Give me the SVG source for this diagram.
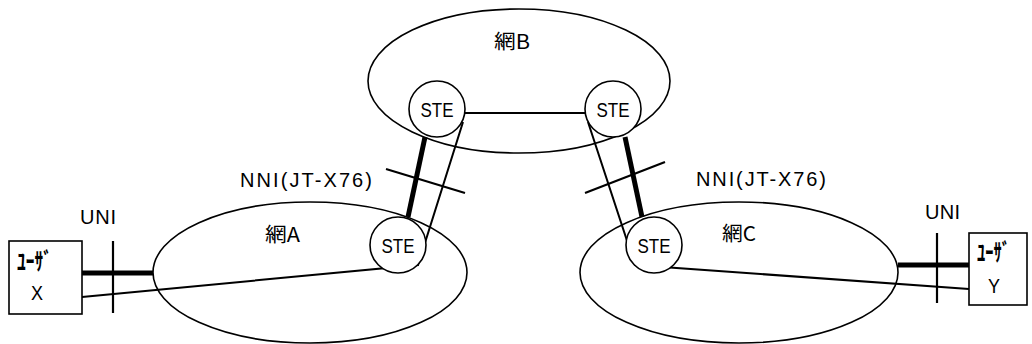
<svg xmlns="http://www.w3.org/2000/svg" width="1032" height="344" viewBox="0 0 1032 344">
  <style>
    .net { fill: none; stroke: #000; stroke-width: 1.6; }
    .ste { fill: #fff; stroke: #000; stroke-width: 1.6; }
    .box { fill: #fff; stroke: #000; stroke-width: 1.6; }
    .thin { fill: none; stroke: #000; stroke-width: 2; }
    .thick { fill: none; stroke: #000; stroke-width: 5; }
    .tick { fill: none; stroke: #000; stroke-width: 2.2; }
    .lbl { font-family: "Liberation Sans", "Noto Sans CJK JP", sans-serif; font-size: 20px; fill: #000; }
    .jp { font-family: "Noto Sans CJK JP", sans-serif; font-size: 20px; fill: #000; }
    .kana { font-family: "Noto Sans CJK JP", sans-serif; font-size: 24px; font-weight: bold; fill: #000; }
  </style>

  <!-- networks -->
  <g id="net-b">
    <ellipse class="net" cx="519" cy="81" rx="151" ry="72"/>
    <text class="jp" x="494" y="49" textLength="36" lengthAdjust="spacingAndGlyphs">網B</text>
  </g>
  <g id="net-a">
    <ellipse class="net" cx="310" cy="272.5" rx="157" ry="70.5"/>
    <text class="jp" x="265" y="242" textLength="35" lengthAdjust="spacingAndGlyphs">網A</text>
  </g>
  <g id="net-c">
    <ellipse class="net" cx="739" cy="272.5" rx="159" ry="70.5"/>
    <text class="jp" x="722" y="241" textLength="34" lengthAdjust="spacingAndGlyphs">網C</text>
  </g>

  <!-- connectors -->
  <g id="connectors">
    <line class="thin" x1="465" y1="113" x2="585" y2="113"/>
    <line class="thick" x1="425" y1="137" x2="408" y2="217"/>
    <line class="thick" x1="625" y1="137" x2="642" y2="217"/>
    <polyline class="thin" points="463,122 418,265 82,297"/>
    <polyline class="thin" points="588,122 635,265 969,289"/>
    <line class="thick" x1="82" y1="273" x2="153" y2="273"/>
    <line class="thick" x1="898" y1="265" x2="969" y2="265"/>
    <!-- interface marks -->
    <line class="tick" x1="113" y1="241" x2="113" y2="313"/>
    <line class="tick" x1="937" y1="233" x2="937" y2="303"/>
    <line class="tick" x1="386" y1="169" x2="465" y2="193"/>
    <line class="tick" x1="585" y1="193" x2="665" y2="162"/>
  </g>

  <!-- signalling transfer endpoints -->
  <g id="ste-b1">
    <circle class="ste" cx="437" cy="109" r="28"/>
    <text class="lbl" x="437" y="117" text-anchor="middle" textLength="33" lengthAdjust="spacingAndGlyphs">STE</text>
  </g>
  <g id="ste-b2">
    <circle class="ste" cx="613" cy="109" r="28"/>
    <text class="lbl" x="613" y="117" text-anchor="middle" textLength="33" lengthAdjust="spacingAndGlyphs">STE</text>
  </g>
  <g id="ste-a">
    <circle class="ste" cx="398" cy="245" r="28"/>
    <text class="lbl" x="398" y="253" text-anchor="middle" textLength="33" lengthAdjust="spacingAndGlyphs">STE</text>
  </g>
  <g id="ste-c">
    <circle class="ste" cx="654" cy="245" r="28"/>
    <text class="lbl" x="654" y="253" text-anchor="middle" textLength="33" lengthAdjust="spacingAndGlyphs">STE</text>
  </g>

  <!-- users -->
  <g id="user-x">
    <rect class="box" x="9" y="241" width="73" height="73"/>
    <text class="kana" x="17" y="270" textLength="35" lengthAdjust="spacingAndGlyphs">ﾕｰｻﾞ</text>
    <text class="lbl" x="37" y="300" font-size="22" text-anchor="middle" textLength="12" lengthAdjust="spacingAndGlyphs">X</text>
  </g>
  <g id="user-y">
    <rect class="box" x="969" y="233" width="58" height="72"/>
    <text class="kana" x="977" y="261" textLength="33" lengthAdjust="spacingAndGlyphs">ﾕｰｻﾞ</text>
    <text class="lbl" x="994" y="293" font-size="22" text-anchor="middle" textLength="12" lengthAdjust="spacingAndGlyphs">Y</text>
  </g>

  <!-- interface labels -->
  <g id="labels">
    <text class="lbl" x="80" y="224" font-size="18" textLength="36" lengthAdjust="spacing">UNI</text>
    <text class="lbl" x="925" y="219" font-size="18" textLength="35" lengthAdjust="spacing">UNI</text>
    <text class="lbl" x="240" y="187" textLength="132" lengthAdjust="spacing">NNI(JT-X76)</text>
    <text class="lbl" x="696" y="186" textLength="130" lengthAdjust="spacing">NNI(JT-X76)</text>
  </g>
</svg>
